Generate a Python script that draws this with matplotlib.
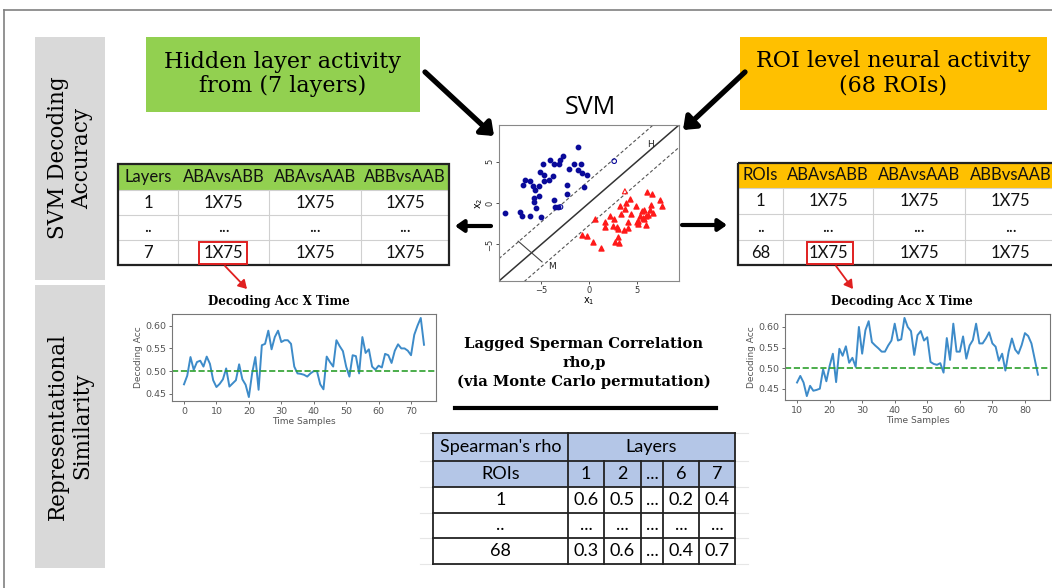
import matplotlib.pyplot as plt
from matplotlib.patches import Rectangle

# ---- data ----
svm_cols = ["ABAvsABB", "ABAvsAAB", "ABBvsAAB"]
layer_rows = ["1", "..", "7"]
roi_rows = ["1", "..", "68"]
cell_shape = "1X75"

rho_layers = ["1", "2", "...", "6", "7"]
rho_rois = ["1", "..", "68"]
rho_vals = [["0.6", "0.5", "...", "0.2", "0.4"],
            ["...", "...", "...", "...", "..."],
            ["0.3", "0.6", "...", "0.4", "0.7"]]

layer_time = list(range(0, 75))
layer_acc = [0.471, 0.490, 0.531, 0.503, 0.520, 0.523, 0.510, 0.532, 0.516, 0.480,
             0.465, 0.472, 0.482, 0.506, 0.466, 0.473, 0.480, 0.515, 0.482, 0.470,
             0.443, 0.495, 0.531, 0.459, 0.557, 0.560, 0.589, 0.548, 0.575, 0.589,
             0.564, 0.568, 0.568, 0.560, 0.510, 0.495, 0.494, 0.492, 0.488, 0.495,
             0.500, 0.500, 0.471, 0.460, 0.532, 0.520, 0.510, 0.568, 0.555, 0.544,
             0.510, 0.488, 0.535, 0.533, 0.495, 0.575, 0.540, 0.548, 0.510, 0.503,
             0.512, 0.508, 0.538, 0.535, 0.518, 0.545, 0.559, 0.550, 0.550, 0.545,
             0.535, 0.580, 0.600, 0.617, 0.558]

roi_time = list(range(10, 85))
roi_acc = [0.465, 0.481, 0.465, 0.432, 0.457, 0.445, 0.447, 0.450, 0.497, 0.468,
           0.505, 0.535, 0.466, 0.547, 0.530, 0.553, 0.513, 0.525, 0.503, 0.600,
           0.535, 0.592, 0.614, 0.563, 0.555, 0.548, 0.540, 0.540, 0.555, 0.567,
           0.608, 0.567, 0.570, 0.622, 0.600, 0.590, 0.532, 0.580, 0.590, 0.567,
           0.575, 0.515, 0.510, 0.508, 0.512, 0.489, 0.573, 0.520, 0.608, 0.540,
           0.540, 0.577, 0.523, 0.555, 0.568, 0.608, 0.560, 0.560, 0.572, 0.587,
           0.560, 0.552, 0.518, 0.535, 0.494, 0.540, 0.572, 0.545, 0.535, 0.556,
           0.585, 0.578, 0.560, 0.522, 0.484]
chance = 0.5

blue_x = [-8.77, -7.19, -7.02, -6.91, -6.67, -6.14, -6.21, -5.86, -5.61, -5.79,
          -5.72, -5.51, -5.26, -5.26, -5.16, -4.98, -4.81, -4.74, -4.67, -4.14,
          -4.11, -3.75, -3.61, -3.68, -3.51, -3.16, -3.05, -3.26, -2.70, -2.28,
          -2.07, -2.35, -1.58, -1.16, -1.12, -0.81, -0.70, -0.53, -0.18]
blue_y = [-1.21, -1.13, -1.53, 2.22, 2.82, -1.53, 2.62, 2.02, 1.53, 0.08,
          0.60, -0.60, 2.02, 0.89, 3.71, -1.73, 4.64, 2.62, 3.43, 2.74,
          5.24, 3.31, 4.64, 0.40, -0.48, 4.64, 5.16, -0.48, 5.65, 2.22,
          4.11, 1.13, 4.76, 6.77, 4.03, 4.76, 3.63, 1.94, 3.39]
blue_sv_x = [-2.98, 2.63]
blue_sv_y = [-0.48, 5.04]

red_x = [-0.70, -0.18, 0.46, 0.60, 1.30, 1.65, 1.65, 2.21, 2.46, 2.56,
         2.70, 2.98, 3.05, 3.16, 2.91, 3.26, 3.33, 3.61, 3.75, 3.86,
         4.04, 4.11, 4.32, 4.39, 4.91, 5.02, 5.09, 5.16, 5.37, 5.51,
         5.61, 5.72, 5.79, 5.96, 5.96, 6.07, 6.14, 6.42, 6.49, 6.56,
         6.67, 7.37, 7.61]
red_y = [-3.91, -4.03, -4.76, -1.94, -5.44, -2.34, -2.90, -1.61, -2.82, -1.94,
         -4.76, -3.15, -4.11, -4.84, -2.90, -0.40, -1.29, -3.31, -0.73, 0.00,
         -2.34, -3.02, 0.48, -1.29, -0.40, -2.34, -2.50, -2.22, -1.53, -1.01,
         -1.81, -0.89, -1.94, -1.61, -2.62, 1.29, -1.41, -0.89, -0.20, 1.13,
         -1.21, 0.32, -0.32]
red_sv_x = [3.75]
red_sv_y = [1.41]
margin = 2.7

# ---- figure in pixel coordinates ----
W, H = 1052, 588
fig = plt.figure(figsize=(W / 100, H / 100), dpi=100)
bg = fig.add_axes([0, 0, 1, 1])
bg.set_xlim(0, W)
bg.set_ylim(H, 0)
bg.axis('off')

SERIF = 'DejaVu Serif'
TFONT = 'Lato'


def px_axes(x0, y0, x1, y1):
    return fig.add_axes([x0 / W, 1 - y1 / H, (x1 - x0) / W, (y1 - y0) / H])


def box(x0, y0, x1, y1, fc, ec='none', lw=0, z=1):
    bg.add_patch(Rectangle((x0, y0), x1 - x0, y1 - y0, facecolor=fc,
                           edgecolor=ec, linewidth=lw, zorder=z))


def arrow(x0, y0, x1, y1, color='black', lw=3.5, hw=0.5, hl=0.6):
    bg.annotate('', xy=(x1, y1), xytext=(x0, y0),
                arrowprops=dict(arrowstyle=f'-|>,head_width={hw},head_length={hl}',
                                color=color, lw=lw, shrinkA=0, shrinkB=0))


# outer frame
bg.plot([4, W], [10, 10], color='#808080', lw=1.2)
bg.plot([4, 4], [10, H], color='#808080', lw=1.2)

# left side labels
box(35, 37, 105, 280, '#d9d9d9')
box(35, 285, 105, 568, '#d9d9d9')
bg.text(70, 158, 'SVM Decoding\nAccuracy', rotation=90, ha='center', va='center',
        family=SERIF, fontsize=15.5, linespacing=1.1)
bg.text(70, 426, 'Representational\nSimilarity', rotation=90, ha='center', va='center',
        family=SERIF, fontsize=15.5, linespacing=1.1)

# top source boxes
box(146, 37, 420, 112, '#92d050')
bg.text(283, 74, 'Hidden layer activity\nfrom (7 layers)', ha='center', va='center',
        family=SERIF, fontsize=16, linespacing=1.15)
box(740, 37, 1047, 110, '#ffc000')
bg.text(893, 73, 'ROI level neural activity\n(68 ROIs)', ha='center', va='center',
        family=SERIF, fontsize=16, linespacing=1.15)

arrow(425, 72, 494, 136, lw=3.8, hw=0.55, hl=0.7)
arrow(745, 72, 683, 130, lw=3.8, hw=0.55, hl=0.7)

bg.text(590, 108, 'SVM', ha='center', va='center', family='Open Sans', fontsize=18)


def draw_table(x_edges, y_edges, header, rows, head_color):
    x0, x1 = x_edges[0], x_edges[-1]
    y0, y1 = y_edges[0], y_edges[-1]
    box(x0, y0, x1, y_edges[1], head_color, z=1)
    for xe in x_edges[1:-1]:
        bg.plot([xe, xe], [y_edges[1], y1], color='#d0d0d0', lw=0.8, zorder=2)
    for ye in y_edges[1:-1]:
        bg.plot([x0, x1], [ye, ye], color='#d0d0d0', lw=0.8, zorder=2)
    bg.add_patch(Rectangle((x0, y0), x1 - x0, y1 - y0, facecolor='none',
                           edgecolor='#222222', lw=1.6, zorder=3))
    for r, line in enumerate([header] + rows):
        yc = (y_edges[r] + y_edges[r + 1]) / 2
        for c, txt in enumerate(line):
            xc = (x_edges[c] + x_edges[c + 1]) / 2
            bg.text(xc, yc, txt, ha='center', va='center', family=TFONT,
                    fontsize=12, color='#111111', zorder=4)


draw_table([118, 178, 269, 361, 449], [164, 190, 215, 240, 265],
           ['Layers'] + svm_cols,
           [[r] + [cell_shape if r != '..' else '...'] * 3 for r in layer_rows],
           '#92d050')
draw_table([738, 783, 873, 965, 1056], [163, 188, 214, 240, 265],
           ['ROIs'] + svm_cols,
           [[r] + [cell_shape if r != '..' else '...'] * 3 for r in roi_rows],
           '#ffc000')

# highlighted cells + red arrows
bg.add_patch(Rectangle((199, 242), 48, 22, facecolor='none', edgecolor='#e02020', lw=1.4, zorder=5))
bg.add_patch(Rectangle((807, 242), 46, 22, facecolor='none', edgecolor='#e02020', lw=1.4, zorder=5))
arrow(225, 266, 247, 289, color='#e02020', lw=1.3, hw=0.3, hl=0.5)
arrow(836, 266, 853, 289, color='#e02020', lw=1.3, hw=0.3, hl=0.5)

# SVM -> tables
arrow(491, 226, 455, 226, lw=3, hw=0.35, hl=0.5)
arrow(682, 225, 727, 225, lw=3, hw=0.35, hl=0.5)

# SVM scatter
sx = px_axes(499, 125, 679, 281)
lim = 9.4
sx.plot([-lim, lim], [-lim, lim], color='#333333', lw=1.1)
sx.plot([-lim, lim], [-lim + margin, lim + margin], color='#555555', lw=0.8, ls=(0, (3, 2)))
sx.plot([-lim, lim], [-lim - margin, lim - margin], color='#555555', lw=0.8, ls=(0, (3, 2)))
sx.scatter(blue_x, blue_y, s=10, color='#0a0a9a', zorder=3)
sx.scatter(blue_sv_x, blue_sv_y, s=11, facecolor='none', edgecolor='#0a0a9a', lw=0.8, zorder=3)
sx.scatter(red_x, red_y, s=13, marker='^', color='#ff1a1a', zorder=3)
sx.scatter(red_sv_x, red_sv_y, s=13, marker='^', facecolor='none', edgecolor='#ff1a1a', lw=0.8, zorder=3)
sx.plot([-7.4, -4.9], [-4.6, -7.1], color='#444444', lw=0.8)
sx.text(-4.3, -7.6, 'M', fontsize=6.5, color='#222222', va='center')
sx.text(6.1, 7.1, 'H', fontsize=6.5, color='#222222', va='center')
sx.set_xlim(-lim, lim)
sx.set_ylim(-lim, lim)
sx.set_xticks([-5, 0, 5])
sx.set_yticks([-5, 0, 5])
sx.tick_params(labelsize=6, length=2.5, width=0.6, colors='#333333', pad=1)
for lab in sx.get_yticklabels():
    lab.set_rotation(90)
    lab.set_va('center')
sx.set_xlabel('x$_1$', fontsize=7, labelpad=0)
sx.set_ylabel('x$_2$', fontsize=7, labelpad=0)
for sp in sx.spines.values():
    sp.set_color('#888888')
    sp.set_linewidth(0.8)


def acc_plot(ax, t, acc):
    ax.plot(t, acc, color='#3d8bc9', lw=1.4)
    ax.axhline(chance, color='#2ca02c', ls='--', lw=1.2)
    ax.set_xlabel('Time Samples', fontsize=6.5, color='#555555', labelpad=1)
    ax.set_ylabel('Decoding Acc', fontsize=6.5, color='#555555', labelpad=2)
    ax.set_yticks([0.45, 0.50, 0.55, 0.60])
    ax.tick_params(labelsize=6.8, length=2.5, width=0.6, colors='#555555', pad=1.5)
    for sp in ax.spines.values():
        sp.set_color('#777777')
        sp.set_linewidth(0.8)


la = px_axes(172, 314, 436, 401)
acc_plot(la, layer_time, layer_acc)
la.set_xticks([0, 10, 20, 30, 40, 50, 60, 70])
ra = px_axes(785, 314, 1050, 400)
acc_plot(ra, roi_time, roi_acc)
ra.set_xticks([10, 20, 30, 40, 50, 60, 70, 80])
for xc in (279, 902):
    bg.text(xc, 302, 'Decoding Acc X Time', ha='center', va='center',
            family=SERIF, fontweight='bold', fontsize=8.6)

# middle text
bg.text(584, 363, 'Lagged Sperman Correlation\nrho,p\n(via Monte Carlo permutation)',
        ha='center', va='center', family=SERIF, fontweight='bold', fontsize=10.6,
        linespacing=1.4)
bg.plot([455, 716], [408, 408], color='black', lw=3)

# Spearman table
cx = [433, 568, 604, 641, 663, 699, 735]
cy = [433, 461, 487, 513, 538, 564]
for ye in cy:
    bg.plot([420, 748], [ye, ye], color='#e6e6e6', lw=0.8, zorder=0)
box(cx[0], cy[0], cx[-1], cy[2], '#b4c6e7')
box(cx[0], cy[2], cx[-1], cy[-1], 'white')
for xe in cx:
    top = cy[0] if xe in (cx[0], cx[1], cx[-1]) else cy[1]
    bg.plot([xe, xe], [top, cy[-1]], color='#222222', lw=1.3, zorder=3)
for ye in cy:
    bg.plot([cx[0], cx[-1]], [ye, ye], color='#222222', lw=1.3, zorder=3)
bg.text((cx[0] + cx[1]) / 2, (cy[0] + cy[1]) / 2, "Spearman's rho", ha='center', va='center',
        family=TFONT, fontsize=13)
bg.text((cx[1] + cx[-1]) / 2, (cy[0] + cy[1]) / 2, 'Layers', ha='center', va='center',
        family=TFONT, fontsize=13)
for r, line in enumerate([['ROIs'] + rho_layers] +
                         [[roi] + vals for roi, vals in zip(rho_rois, rho_vals)]):
    yc = (cy[r + 1] + cy[r + 2]) / 2
    for c, txt in enumerate(line):
        xc = (cx[c] + cx[c + 1]) / 2
        bg.text(xc, yc, txt, ha='center', va='center', family=TFONT, fontsize=13, zorder=4)

fig.savefig('out.png', dpi=100)
